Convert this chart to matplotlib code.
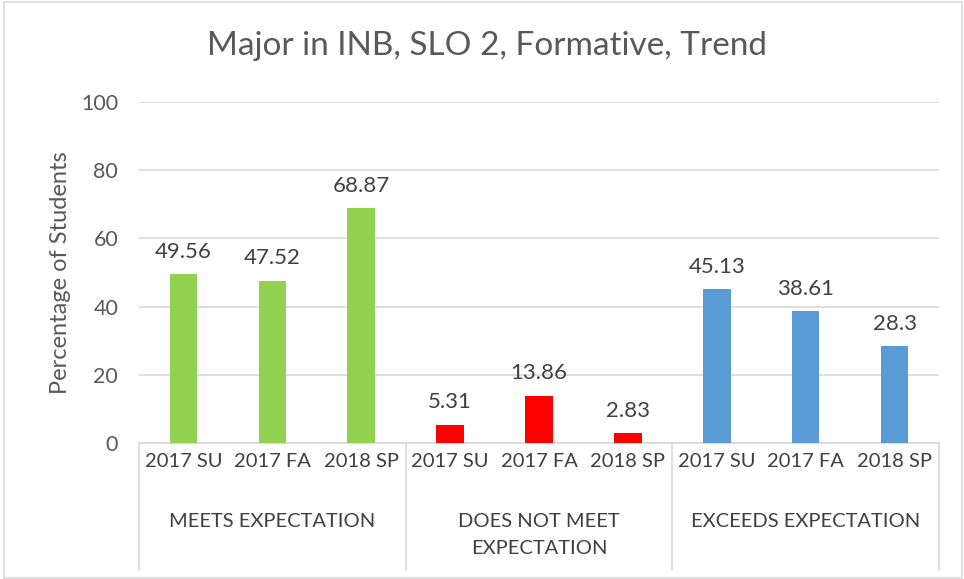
from matplotlib import pyplot as plt
from matplotlib.patches import Rectangle
import numpy as np

plt.rcParams['font.family'] = ['Lato', 'DejaVu Sans']

terms = ['2017 SU', '2017 FA', '2018 SP']
groups = ['MEETS EXPECTATION', 'DOES NOT MEET\nEXPECTATION', 'EXCEEDS EXPECTATION']
meets = [49.56, 47.52, 68.87]
not_meet = [5.31, 13.86, 2.83]
exceeds = [45.13, 38.61, 28.3]
colors = ['#92D050', '#FF0000', '#5B9BD5']

fig = plt.figure(figsize=(9.64, 5.79), dpi=100)
ax = fig.add_axes([139 / 964, 1 - 443 / 579, 800 / 964, 341 / 579])

# light frame round the whole chart
fig.patches.append(Rectangle((0.004, 0.002), 0.994, 0.995, transform=fig.transFigure,
                             fill=False, edgecolor='#D9D9D9', linewidth=1.2))

width = 0.31
x = np.arange(9)
for g, (vals, col) in enumerate(zip([meets, not_meet, exceeds], colors)):
    xs = x[g * 3:(g + 1) * 3]
    bars = ax.bar(xs, vals, width=width, color=col, zorder=3)
    for b, v in zip(bars, vals):
        ax.annotate(f'{v:g}', (b.get_x() + b.get_width() / 2, v),
                    xytext=(0, 9), textcoords='offset points',
                    ha='center', va='bottom', fontsize=16, color='#404040')

ax.set_xlim(-0.5, 8.5)
ax.set_ylim(0, 100)
ax.set_yticks(range(0, 101, 20))
ax.tick_params(axis='y', length=0, labelsize=15.5, labelcolor='#595959', pad=15)
ax.set_xticks(x)
ax.set_xticklabels(terms * 3)
ax.tick_params(axis='x', length=0, labelsize=14.5, labelcolor='#404040', pad=7)
ax.grid(axis='y', color='#D9D9D9', linewidth=1.2, zorder=0)
for side in ['top', 'right', 'left']:
    ax.spines[side].set_visible(False)
ax.spines['bottom'].set_color('#D9D9D9')
ax.spines['bottom'].set_linewidth(1.2)

# group separators and labels under the terms
trans = ax.get_xaxis_transform()
for sx in [-0.5, 2.5, 5.5, 8.5]:
    ax.plot([sx, sx], [0, -0.372], transform=trans, color='#D9D9D9',
            linewidth=1.2, clip_on=False)
for g, name in enumerate(groups):
    ax.text(g * 3 + 1, -0.205, name, transform=trans, ha='center', va='top',
            fontsize=14.5, color='#404040', linespacing=1.7)

ax.set_ylabel('Percentage of Students', fontsize=17, color='#595959', labelpad=7)
fig.text(487 / 964, 1 - 46 / 579, 'Major in INB, SLO 2, Formative, Trend',
         ha='center', va='center', fontsize=24, color='#595959')

fig.savefig('out.png', dpi=100)
